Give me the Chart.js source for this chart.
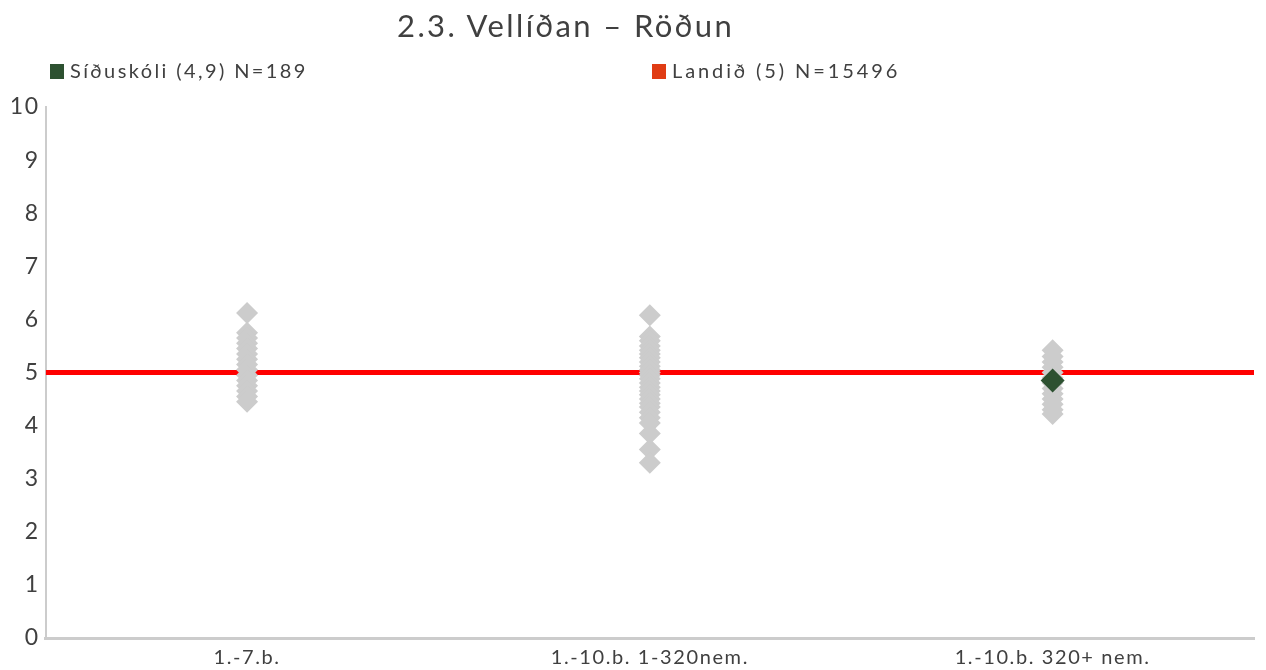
<!DOCTYPE html>
<html>
<head>
<meta charset="utf-8">
<script src="https://cdn.jsdelivr.net/npm/chart.js@4/dist/chart.umd.min.js"></script>
<style>
	body { margin: 0; background: #fff; font-family: Lato, "Open Sans", sans-serif; }
	#wrap { position: relative; width: 1266px; height: 670px; }
	#title { position: absolute; left: 397px; top: 6px; font-size: 31px; letter-spacing: 2.4px; color: #404040; white-space: nowrap; }
	.leg { position: absolute; top: 58px; font-size: 20px; letter-spacing: 2.4px; color: #404040; white-space: nowrap; }
	.leg span { display: inline-block; width: 14px; height: 15px; margin-right: 6px; vertical-align: -1px; }
</style>
</head>
<body>
<div id="wrap">
	<div id="title">2.3. Vellíðan – Röðun</div>
	<div class="leg" style="left:50px"><span style="background:#2d5131"></span>Síðuskóli (4,9) N=189</div>
	<div class="leg" style="left:652px; letter-spacing:2.9px"><span style="background:#e03c14"></span>Landið (5) N=15496</div>
	<canvas id="rodunChart" width="1266" height="670"></canvas>
</div>
<script>
var categories = ['1.-7.b.', '1.-10.b. 1-320nem.', '1.-10.b. 320+ nem.'];

// other schools, one array per group
var schools17 = [6.12, 5.75, 5.65, 5.55, 5.45, 5.35, 5.25, 5.15, 5.05, 4.95, 4.85, 4.75, 4.65, 4.55, 4.45];
var schoolsSmall = [6.08, 5.68, 5.6, 5.5, 5.42, 5.35, 5.28, 5.2, 5.12, 5.05, 5.0, 4.95, 4.88, 4.8, 4.72,
	4.65, 4.58, 4.5, 4.42, 4.35, 4.25, 4.15, 4.05, 3.85, 3.55, 3.3];
var schoolsLarge = [5.42, 5.3, 5.2, 5.1, 5.0, 4.9, 4.8, 4.7, 4.6, 4.5, 4.4, 4.3, 4.22];

var siduskoli = { category: '1.-10.b. 320+ nem.', value: 4.85 };
var landid = 5;

var yTicks = [0, 1, 2, 3, 4, 5, 6, 7, 8, 9, 10];

function toPoints(label, values){
	return values.map(function(v){ return { x: label, y: v }; });
}

var grayPoints = []
	.concat(toPoints(categories[0], schools17))
	.concat(toPoints(categories[1], schoolsSmall))
	.concat(toPoints(categories[2], schoolsLarge));

var fontFamily = 'Lato, "Open Sans", sans-serif';

// wider letters like the original
var spacingPlugin = {
	id: 'spacing',
	beforeDraw: function(chart){ chart.ctx.letterSpacing = '1.6px'; }
};

var ctx = document.getElementById('rodunChart');
var rodunChart = new Chart(ctx, {
	type: 'line',
	data: {
		labels: categories,
		datasets: [{
			label: 'Síðuskóli',
			data: [{ x: siduskoli.category, y: siduskoli.value }],
			showLine: false,
			pointStyle: 'rectRot',
			pointRadius: 12,
			pointBackgroundColor: '#2d5131',
			pointBorderWidth: 0,
			order: 0
		}, {
			label: 'Aðrir skólar',
			data: grayPoints,
			showLine: false,
			pointStyle: 'rectRot',
			pointRadius: 11,
			pointBackgroundColor: '#cccccc',
			pointBorderWidth: 0,
			order: 1
		}, {
			label: 'Landið',
			data: [{ x: 0, y: landid }, { x: 1, y: landid }],
			xAxisID: 'xLine',
			borderColor: '#ff0000',
			borderWidth: 5,
			pointRadius: 0,
			order: 2
		}]
	},
	plugins: [spacingPlugin],
	options: {
		responsive: false,
		animation: false,
		layout: { padding: { top: 107, right: 8, left: 12, bottom: -8 } },
		plugins: { legend: { display: false }, tooltip: { enabled: false } },
		scales: {
			x: {
				type: 'category',
				offset: true,
				grid: { display: false, drawTicks: false },
				border: { color: '#cccccc', width: 3 },
				ticks: { color: '#404040', font: { family: fontFamily, size: 20 }, padding: 8 }
			},
			xLine: {
				type: 'linear',
				display: false,
				min: 0,
				max: 1
			},
			y: {
				min: 0,
				max: 10,
				afterBuildTicks: function(scale){
					scale.ticks = yTicks.map(function(v){ return { value: v }; });
				},
				grid: { display: false, drawOnChartArea: false, drawTicks: true, tickLength: 5, tickColor: '#bbbbbb' },
				border: { color: '#cccccc', width: 2 },
				ticks: { color: '#404040', font: { family: fontFamily, size: 23 }, padding: 1 }
			}
		}
	}
});
</script>
</body>
</html>
